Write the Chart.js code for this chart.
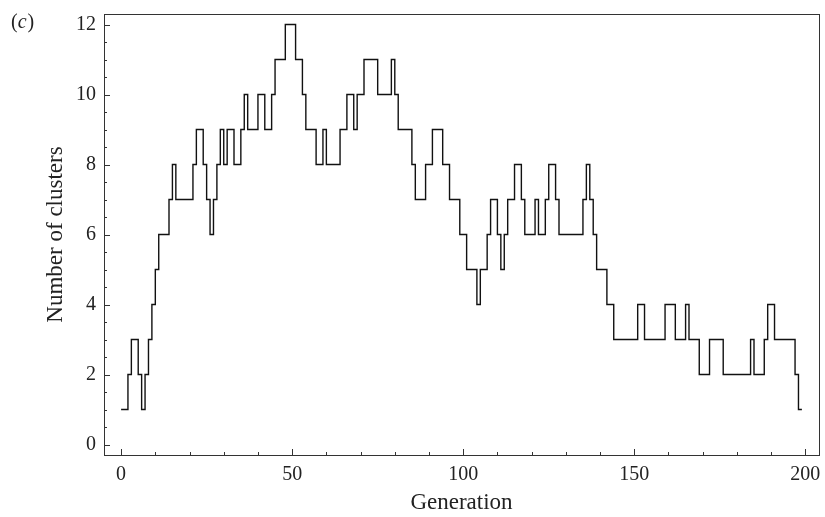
<!DOCTYPE html>
<html>
<head>
<meta charset="utf-8">
<script src="https://cdn.jsdelivr.net/npm/chart.js@4.4.0/dist/chart.umd.min.js"></script>
<style>
  html, body { margin: 0; padding: 0; background: #fff; }
  #wrap { width: 825px; height: 517px; position: relative; }
</style>
</head>
<body>
<div id="wrap"><canvas id="myChart"></canvas></div>
<script>
// number of clusters per generation, generation 0..198 (last entry closes the final step at 199)
const clusters = [
    1, 1, 2, 3, 3, 2, 1, 2, 3, 4,
    5, 6, 6, 6, 7, 8, 7, 7, 7, 7,
    7, 8, 9, 9, 8, 7, 6, 7, 8, 9,
    8, 9, 9, 8, 8, 9, 10, 9, 9, 9,
    10, 10, 9, 9, 10, 11, 11, 11, 12, 12,
    12, 11, 11, 10, 9, 9, 9, 8, 8, 9,
    8, 8, 8, 8, 9, 9, 10, 10, 9, 10,
    10, 11, 11, 11, 11, 10, 10, 10, 10, 11,
    10, 9, 9, 9, 9, 8, 7, 7, 7, 8,
    8, 9, 9, 9, 8, 8, 7, 7, 7, 6,
    6, 5, 5, 5, 4, 5, 5, 6, 7, 7,
    6, 5, 6, 7, 7, 8, 8, 7, 6, 6,
    6, 7, 6, 6, 7, 8, 8, 7, 6, 6,
    6, 6, 6, 6, 6, 7, 8, 7, 6, 5,
    5, 5, 4, 4, 3, 3, 3, 3, 3, 3,
    3, 4, 4, 3, 3, 3, 3, 3, 3, 4,
    4, 4, 3, 3, 3, 4, 3, 3, 3, 2,
    2, 2, 3, 3, 3, 3, 2, 2, 2, 2,
    2, 2, 2, 2, 3, 2, 2, 2, 3, 4,
    4, 3, 3, 3, 3, 3, 3, 2, 1, 1
];
const xTicks = [0, 50, 100, 150, 200];
const yTicks = [0, 2, 4, 6, 8, 10, 12];

const serif = '"Liberation Serif", "DejaVu Serif", serif';
const points = clusters.map((v, i) => ({ x: i, y: v }));

const frame = {
    id: 'frame',
    afterDraw(chart) {
        const { ctx, chartArea: a, scales } = chart;
        ctx.save();
        ctx.strokeStyle = '#333';
        ctx.lineWidth = 1;
        ctx.strokeRect(a.left + 0.5, a.top + 0.5, a.right - a.left, a.bottom - a.top);
        ctx.beginPath();
        // bottom ticks, inward
        for (let v = 0; v <= 200; v += 10) {
            const x = Math.round(scales.x.getPixelForValue(v)) + 0.5;
            const len = v % 50 === 0 ? 6 : 3;
            ctx.moveTo(x, a.bottom);
            ctx.lineTo(x, a.bottom - len);
        }
        // left ticks, inward
        for (let v = 0; v <= 12; v += 0.5) {
            const y = Math.round(scales.y.getPixelForValue(v)) + 0.5;
            const len = v % 2 === 0 ? 6 : 3;
            ctx.moveTo(a.left, y);
            ctx.lineTo(a.left + len, y);
        }
        ctx.stroke();

        // panel label (c)
        ctx.fillStyle = '#222';
        ctx.textBaseline = 'alphabetic';
        let x = 11;
        ctx.font = '20px ' + serif;
        ctx.fillText('(', x, 28);
        x += ctx.measureText('(').width;
        ctx.font = 'italic 20px ' + serif;
        ctx.fillText('c', x, 28);
        x += ctx.measureText('c').width + 1;
        ctx.font = '20px ' + serif;
        ctx.fillText(')', x, 28);
        ctx.restore();
    }
};

new Chart(document.getElementById('myChart'), {
    type: 'line',
    data: {
        datasets: [{
            data: points,
            borderColor: '#111',
            borderWidth: 1.4,
            pointRadius: 0,
            stepped: true,
            fill: false
        }]
    },
    options: {
        responsive: true,
        maintainAspectRatio: false,
        animation: false,
        layout: { padding: { top: 14, right: 6, left: 0, bottom: 0 } },
        plugins: { legend: { display: false }, tooltip: { enabled: false } },
        scales: {
            x: {
                type: 'linear',
                min: -5,
                max: 204,
                grid: { display: false, drawTicks: false },
                border: { display: false },
                afterBuildTicks: s => { s.ticks = xTicks.map(v => ({ value: v })); },
                afterFit: s => { s.height = 62; s.paddingLeft = 0; s.paddingRight = 0; },
                ticks: { font: { family: serif, size: 20 }, color: '#222', padding: 8 },
                title: {
                    display: true,
                    text: 'Generation',
                    font: { family: serif, size: 23 },
                    color: '#222',
                    padding: { top: 0, bottom: 0 }
                }
            },
            y: {
                min: -0.3,
                max: 12.3,
                grid: { display: false, drawTicks: false },
                border: { display: false },
                afterBuildTicks: s => { s.ticks = yTicks.map(v => ({ value: v })); },
                afterFit: s => { s.width = 104; s.paddingTop = 0; s.paddingBottom = 0; },
                ticks: { font: { family: serif, size: 20 }, color: '#222', padding: 8 },
                title: {
                    display: true,
                    text: 'Number of clusters',
                    font: { family: serif, size: 23 },
                    color: '#222',
                    padding: { top: 42, bottom: 0 }
                }
            }
        }
    },
    plugins: [frame]
});
</script>
</body>
</html>
